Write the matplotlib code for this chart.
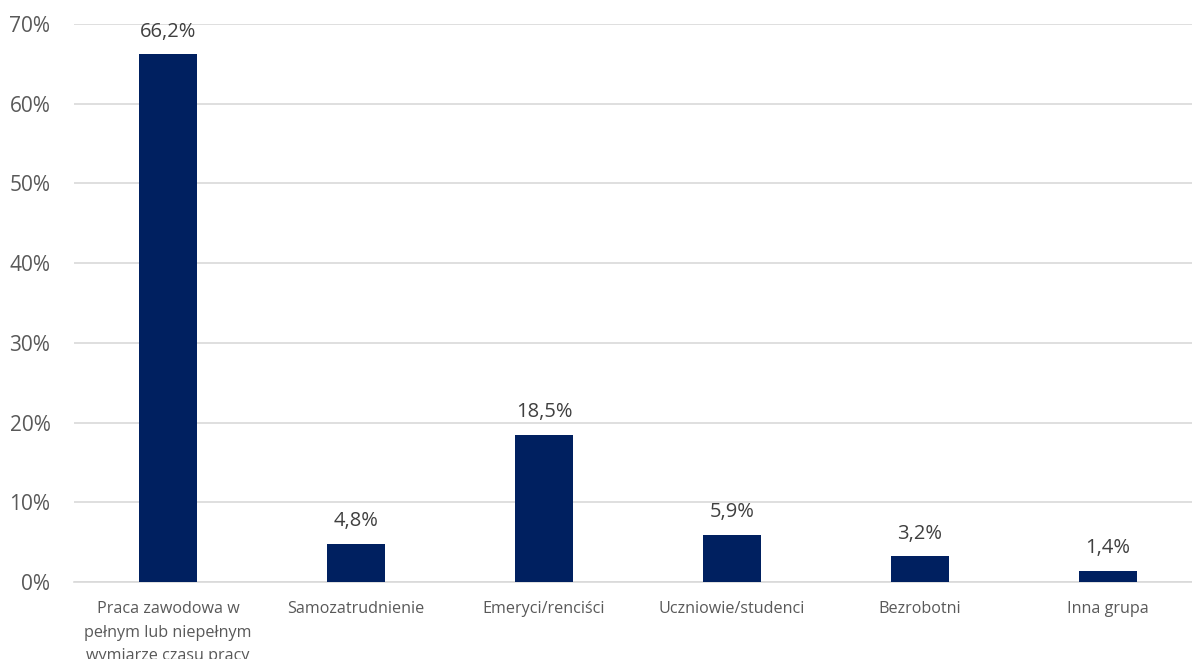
import matplotlib
matplotlib.use("Agg")
import matplotlib.pyplot as plt

# dane
kategorie = [
    "Praca zawodowa w\npełnym lub niepełnym\nwymiarze czasu pracy",
    "Samozatrudnienie",
    "Emeryci/renciści",
    "Uczniowie/studenci",
    "Bezrobotni",
    "Inna grupa",
]
wartosci = [66.2, 4.8, 18.5, 5.9, 3.2, 1.4]
etykiety_y = ["0%", "10%", "20%", "30%", "40%", "50%", "60%", "70%"]

plt.rcParams["font.family"] = ["Open Sans", "DejaVu Sans"]
szary = "#595959"

fig = plt.figure(figsize=(11.92, 6.59), dpi=100)
ax = fig.add_axes([74 / 1192, 77 / 659, 1128 / 1192, 558 / 659])

x = list(range(len(kategorie)))
ax.bar(x, wartosci, width=0.31, color="#002060", zorder=3)

for xi, v in zip(x, wartosci):
    ax.annotate(f"{v:.1f}%".replace(".", ","), (xi, v), xytext=(0, 9),
                textcoords="offset points", ha="center", va="bottom",
                fontsize=14.5, color="#404040")

ax.set_xlim(-0.5, len(kategorie) - 0.5)
ax.set_ylim(0, 70)
ax.set_yticks(range(0, 71, 10))
ax.set_yticklabels(etykiety_y, fontsize=15, color=szary)
ax.set_xticks(x)
ax.set_xticklabels(kategorie, fontsize=11.6, color=szary, linespacing=1.62)
ax.tick_params(axis="both", length=0)
ax.tick_params(axis="y", pad=17)
ax.tick_params(axis="x", pad=14)
ax.grid(axis="y", color="#d9d9d9", linewidth=1.2, zorder=0)
for s in ["top", "right", "left"]:
    ax.spines[s].set_visible(False)
ax.spines["bottom"].set_color("#d9d9d9")
ax.spines["bottom"].set_linewidth(1.2)

fig.savefig("out.png", dpi=100)
